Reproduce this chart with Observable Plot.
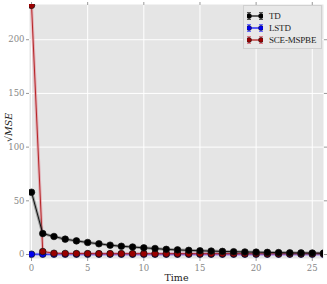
<!DOCTYPE html>
<html><head><meta charset="utf-8">
<script src="https://cdn.jsdelivr.net/npm/d3@7"></script>
<script src="https://cdn.jsdelivr.net/npm/@observablehq/plot@0.6"></script>
<style>
body{margin:0;background:#fff;}
#wrap{position:relative;width:327px;height:284px;font-family:"DejaVu Serif","Liberation Serif",serif;}
#legend{position:absolute;left:243px;top:5px;width:79px;height:44px;background:#e8e8e8;border:1px solid #d0d0d0;box-sizing:border-box;font-size:8px;color:#222;font-family:"Liberation Serif","DejaVu Serif",serif;}
.row{position:absolute;left:3px;height:12px;display:flex;align-items:center;white-space:nowrap;}
.row span{margin-left:6px;font-size:9px;letter-spacing:-0.2px;}
#ylab{position:absolute;left:-6px;top:122px;transform:rotate(-90deg);transform-origin:center;font-size:9.5px;font-style:italic;color:#222;white-space:nowrap;}
</style></head>
<body><div id="wrap"></div>
<script>
const times = d3.range(0, 27);
const tdValues = [58, 19.5, 16.8, 14.3, 12.7, 11.2, 10, 8.7, 7.7, 7, 6.2, 5.6, 4.8, 4.3, 3.9, 3.5, 3.2, 2.9, 2.6, 2.4, 2.2, 2.0, 1.8, 1.6, 1.5, 1.4, 1.3];
const lstdValues = [0.3, 0.3, 0.3, 0.3, 0.3, 0.3, 0.3, 0.3, 0.3, 0.3, 0.3, 0.3, 0.3, 0.3, 0.3, 0.3, 0.3, 0.3, 0.3, 0.3, 0.3, 0.3, 0.3, 0.3, 0.3, 0.3, 0.3];
const sceValues = [232, 2.8, 1.2, 1.0, 0.9, 0.9, 0.8, 0.8, 0.8, 0.8, 0.8, 0.8, 0.8, 0.8, 0.8, 0.8, 0.8, 0.8, 0.8, 0.8, 0.8, 0.8, 0.8, 0.8, 0.8, 0.8, 0.8];
const seriesNames = ["TD", "LSTD", "SCE-MSPBE"];
const lineColors = ["#000000", "#0000ff", "#b01515"];
const markerFills = ["#000000", "#0000ee", "#9a0000"];
const bandColors = ["#555555", "#6b6bff", "#e07a8a"];
const xTicks = [0, 5, 10, 15, 20, 25];
const yTicks = [0, 50, 100, 150, 200];

const allValues = [tdValues, lstdValues, sceValues];
const data = [];
allValues.forEach((vals, s) => vals.forEach((v, i) => data.push({series: seriesNames[s], t: times[i], v})));

const marks = [
  Plot.frame({fill: "#e5e5e5", stroke: "none"}),
  Plot.gridX(xTicks, {stroke: "#fff", strokeOpacity: 1, strokeWidth: 1}),
  Plot.gridY(yTicks, {stroke: "#fff", strokeOpacity: 1, strokeWidth: 1}),
  Plot.axisX(xTicks, {anchor: "bottom", tickSize: 3, stroke: "#999", color: "#888", fontSize: 8.5, tickPadding: 3, label: null}),
  Plot.axisX(xTicks, {anchor: "top", tickSize: 3, stroke: "#999", tickFormat: () => "", label: null}),
  Plot.axisY(yTicks, {anchor: "left", tickSize: 3, stroke: "#999", color: "#888", fontSize: 8.5, tickPadding: 2, label: null}),
  Plot.axisY(yTicks, {anchor: "right", tickSize: 3, stroke: "#999", tickFormat: () => "", label: null}),
];
[1, 2, 0].forEach(s => {
  const d = data.filter(r => r.series === seriesNames[s]);
  marks.push(Plot.line(d, {x: "t", y: "v", stroke: bandColors[s], strokeWidth: 3, strokeOpacity: 0.5, clip: true}));
  marks.push(Plot.line(d, {x: "t", y: "v", stroke: lineColors[s], strokeWidth: 0.9, clip: true}));
  marks.push(Plot.dot(d, {x: "t", y: "v", r: 3.3, fill: markerFills[s], stroke: "#111", strokeWidth: 0.7, clip: true}));
});
marks.push(Plot.text(["Time"], {frameAnchor: "bottom", dy: 22, fontSize: 9.5, fill: "#222"}));

const chart = Plot.plot({
  width: 327, height: 284,
  marginLeft: 29, marginRight: 4, marginTop: 4, marginBottom: 26,
  style: {fontFamily: "'DejaVu Serif','Liberation Serif',serif", background: "#fff", overflow: "visible"},
  x: {domain: [-0.18, 26]},
  y: {domain: [-3.7, 232.8]},
  marks
});
const wrap = document.getElementById("wrap");
wrap.appendChild(chart);

const ylab = document.createElement("div");
ylab.id = "ylab";
ylab.textContent = "√MSE";
wrap.appendChild(ylab);

const legend = document.createElement("div");
legend.id = "legend";
seriesNames.forEach((name, s) => {
  const row = document.createElement("div");
  row.className = "row";
  row.style.top = (4 + s * 12) + "px";
  row.innerHTML = `<svg width="16" height="10"><line x1="2" x2="14" y1="5" y2="5" stroke="${lineColors[s]}" stroke-width="1.2"/>
  <line x1="2" x2="2" y1="1.5" y2="8.5" stroke="${bandColors[s]}"/><line x1="14" x2="14" y1="1.5" y2="8.5" stroke="${bandColors[s]}"/>
  <line x1="0" x2="4" y1="1.5" y2="1.5" stroke="${bandColors[s]}"/><line x1="0" x2="4" y1="8.5" y2="8.5" stroke="${bandColors[s]}"/>
  <line x1="12" x2="16" y1="1.5" y2="1.5" stroke="${bandColors[s]}"/><line x1="12" x2="16" y1="8.5" y2="8.5" stroke="${bandColors[s]}"/>
  <circle cx="2" cy="5" r="2.5" fill="${markerFills[s]}" stroke="#111" stroke-width="0.5"/><circle cx="14" cy="5" r="2.5" fill="${markerFills[s]}" stroke="#111" stroke-width="0.5"/></svg><span>${name}</span>`;
  legend.appendChild(row);
});
wrap.appendChild(legend);
</script>
</body></html>
